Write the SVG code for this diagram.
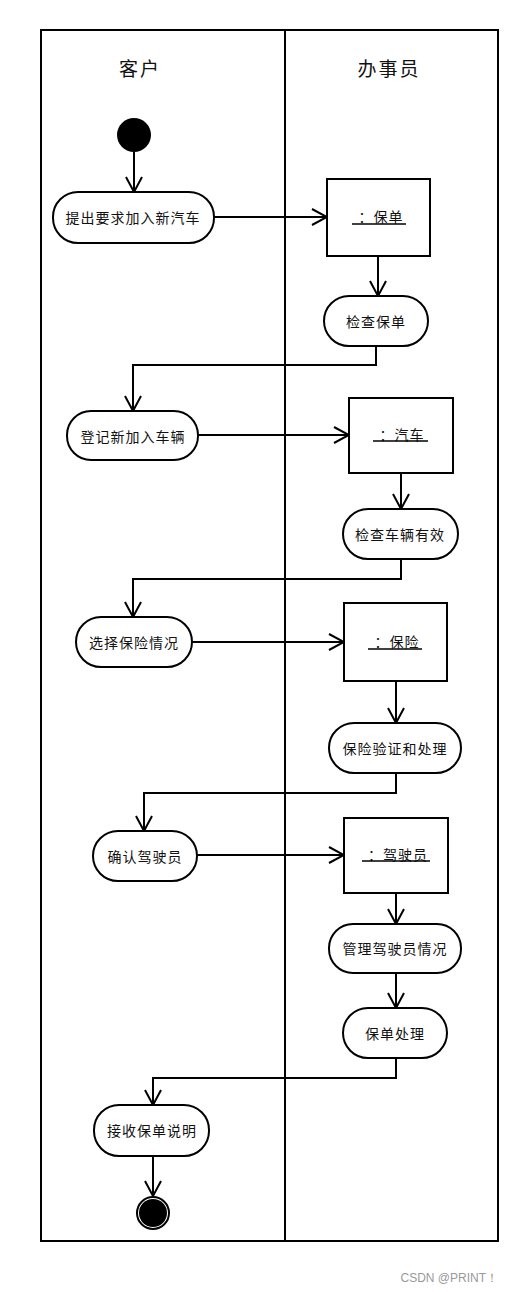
<svg xmlns="http://www.w3.org/2000/svg" width="512" height="1292" viewBox="0 0 512 1292">
<style>
.frame{fill:none;stroke:#000;stroke-width:2}
.act{fill:#fff;stroke:#000;stroke-width:2}
.obj{fill:#fff;stroke:#000;stroke-width:2}
.t{font-family:"Noto Sans CJK SC","Noto Sans",sans-serif;font-size:14px;letter-spacing:1px;fill:#111;text-anchor:middle;dominant-baseline:central}
.h{font-family:"Noto Sans CJK SC","Noto Sans",sans-serif;font-size:19px;letter-spacing:2px;fill:#111;text-anchor:middle;dominant-baseline:central}
.ul{stroke:#000;stroke-width:1.5}
.c{fill:none;stroke:#000;stroke-width:2;marker-end:url(#arr)}
.wm{font-family:"Liberation Sans",sans-serif;font-size:12px;fill:#999;text-anchor:end}
</style>
<defs>
<marker id="arr" viewBox="0 0 17 18" refX="16" refY="9" markerWidth="17" markerHeight="18" markerUnits="userSpaceOnUse" orient="auto">
<path d="M1,1 L16,9 L1,17" fill="none" stroke="#000" stroke-width="2"/>
</marker>
</defs>
<rect width="512" height="1292" fill="#fff"/>
<g id="swimlanes">
<rect class="frame" x="41" y="30" width="457" height="1211"/>
<line class="frame" x1="285" y1="30" x2="285" y2="1241"/>
<text class="h" x="140" y="67">客户</text>
<text class="h" x="389" y="67">办事员</text>
</g>
<g id="connectors">
<path class="c" d="M134,152 V192"/>
<path class="c" d="M214,217 H327"/>
<path class="c" d="M378,256 V296"/>
<path class="c" d="M376,346 V365 H133 V411"/>
<path class="c" d="M198,435 H349"/>
<path class="c" d="M401,473 V509"/>
<path class="c" d="M401,559 V579 H133 V617"/>
<path class="c" d="M192,642 H344"/>
<path class="c" d="M396,681 V723"/>
<path class="c" d="M396,773 V793 H144 V831"/>
<path class="c" d="M197,855 H344"/>
<path class="c" d="M396,893 V924"/>
<path class="c" d="M396,973 V1008"/>
<path class="c" d="M396,1058 V1078 H153 V1105"/>
<path class="c" d="M153,1156 V1196"/>
</g>
<g id="start"><circle cx="134" cy="135" r="17" fill="#000"/></g>
<g id="a1"><rect class="act" x="53" y="192" width="161" height="51" rx="25"/><text class="t" x="133" y="217">提出要求加入新汽车</text></g>
<g id="o1"><rect class="obj" x="327" y="179" width="103" height="77"/><text class="t" x="381" y="216">：保单</text><line class="ul" x1="352" y1="224" x2="406" y2="224"/></g>
<g id="a2"><rect class="act" x="324" y="296" width="104" height="50" rx="25"/><text class="t" x="376" y="321">检查保单</text></g>
<g id="a3"><rect class="act" x="67" y="411" width="131" height="49" rx="24"/><text class="t" x="133" y="436">登记新加入车辆</text></g>
<g id="o2"><rect class="obj" x="349" y="398" width="104" height="75"/><text class="t" x="402" y="434">：汽车</text><line class="ul" x1="373" y1="441" x2="428" y2="441"/></g>
<g id="a4"><rect class="act" x="343" y="509" width="115" height="50" rx="25"/><text class="t" x="400" y="534">检查车辆有效</text></g>
<g id="a5"><rect class="act" x="76" y="617" width="116" height="50" rx="25"/><text class="t" x="134" y="642">选择保险情况</text></g>
<g id="o3"><rect class="obj" x="344" y="603" width="103" height="78"/><text class="t" x="397" y="641">：保险</text><line class="ul" x1="368" y1="649" x2="422" y2="649"/></g>
<g id="a6"><rect class="act" x="329" y="723" width="132" height="50" rx="25"/><text class="t" x="395" y="748">保险验证和处理</text></g>
<g id="a7"><rect class="act" x="93" y="831" width="104" height="50" rx="25"/><text class="t" x="145" y="856">确认驾驶员</text></g>
<g id="o4"><rect class="obj" x="344" y="818" width="104" height="75"/><text class="t" x="398" y="854">：驾驶员</text><line class="ul" x1="362" y1="861" x2="430" y2="861"/></g>
<g id="a8"><rect class="act" x="329" y="924" width="132" height="49" rx="24"/><text class="t" x="395" y="948">管理驾驶员情况</text></g>
<g id="a9"><rect class="act" x="343" y="1008" width="104" height="50" rx="25"/><text class="t" x="395" y="1033">保单处理</text></g>
<g id="a10"><rect class="act" x="94" y="1105" width="115" height="51" rx="25"/><text class="t" x="152" y="1130">接收保单说明</text></g>
<g id="end"><circle cx="153" cy="1213" r="16" fill="#fff" stroke="#000" stroke-width="2"/><circle cx="153" cy="1213" r="14" fill="#000"/></g>
<text class="wm" x="498" y="1282">CSDN @PRINT！</text>
</svg>
